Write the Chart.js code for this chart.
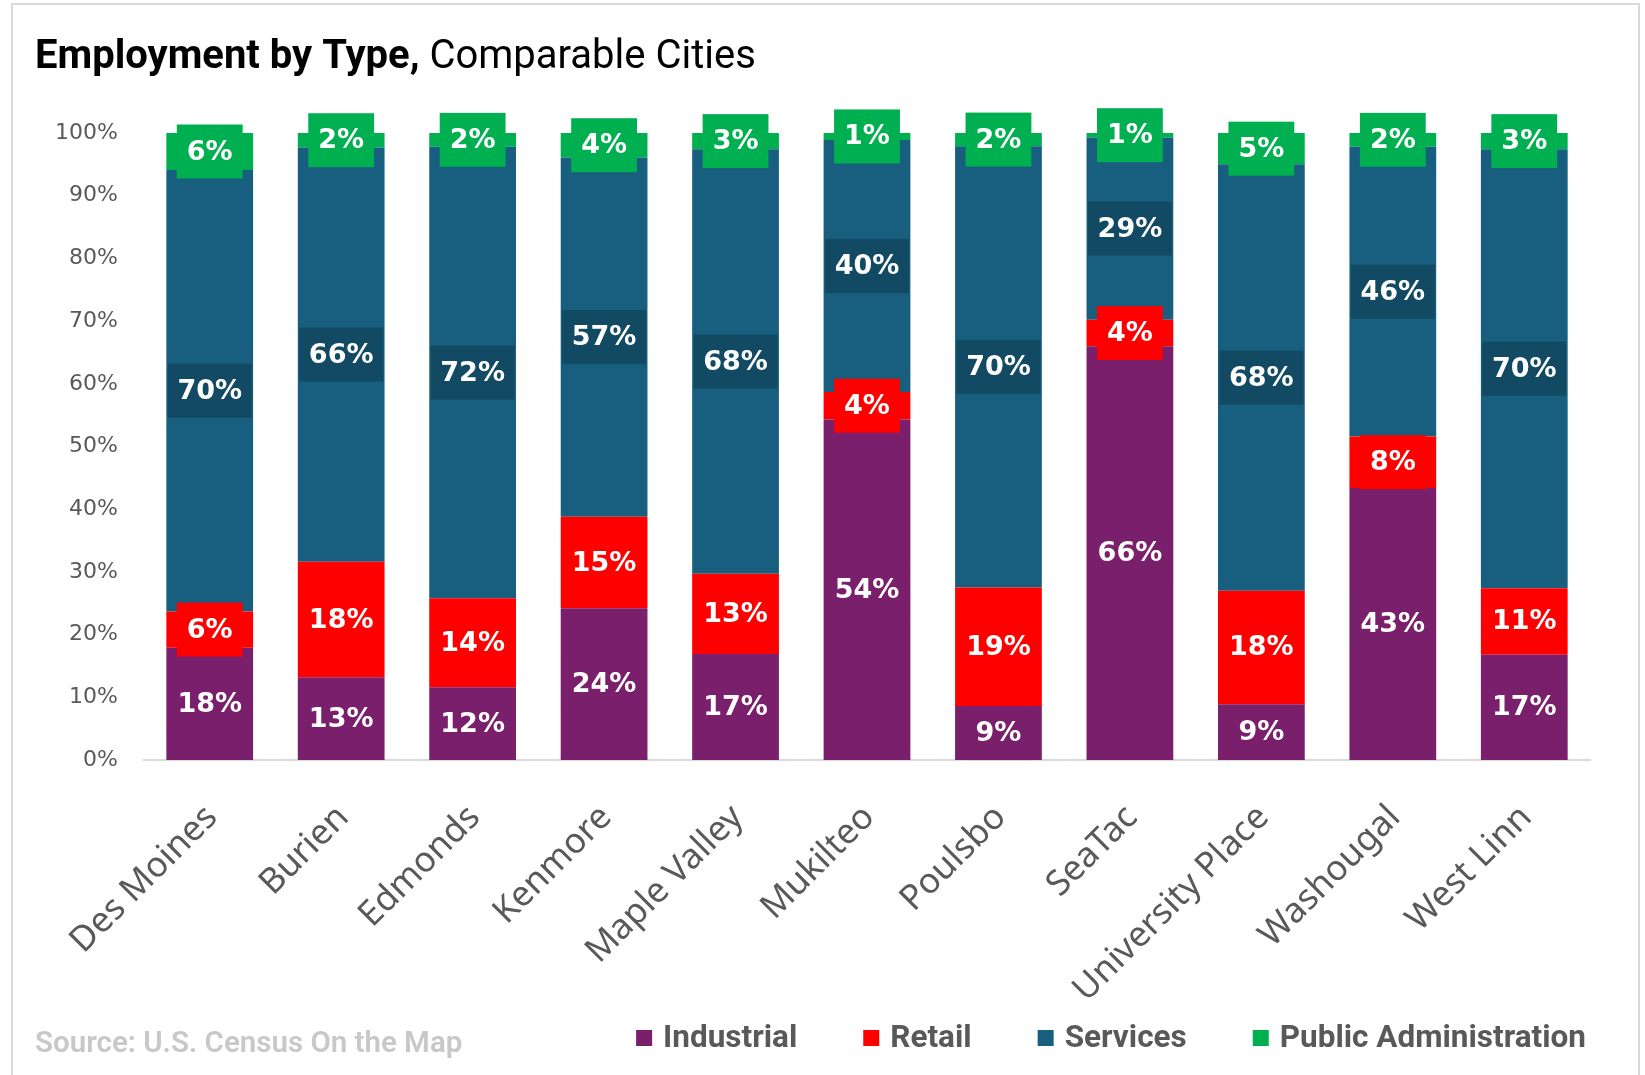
<!DOCTYPE html>
<html><head><meta charset="utf-8">
<script src="https://cdn.jsdelivr.net/npm/chart.js@4"></script>
<style>
html,body{margin:0;padding:0;background:#fff;}
#wrap{position:relative;width:1645px;height:1075px;overflow:hidden;background:#fff;}
#frame{position:absolute;left:11px;top:3px;width:1629px;height:1120px;border:2px solid #d9d9d9;box-sizing:border-box;}
canvas{position:absolute;left:0;top:0;}
</style></head><body>
<div id="wrap"><div id="frame"></div><canvas id="c" width="1645" height="1075"></canvas></div>
<script>
const categories = ['Des Moines','Burien','Edmonds','Kenmore','Maple Valley','Mukilteo','Poulsbo','SeaTac','University Place','Washougal','West Linn'];
const industrial  = [17.9, 13.2, 11.6, 24.2, 16.9, 54.3,  8.6, 66.0,  8.9, 43.4, 16.8];
const retail      = [ 5.8, 18.4, 14.2, 14.6, 12.8,  4.4, 18.9,  4.2, 18.1,  8.2, 10.6];
const services    = [70.4, 66.1, 72.0, 57.3, 67.7, 40.2, 70.4, 29.1, 68.0, 46.2, 70.0];
const publicAdmin = [ 5.9,  2.3,  2.2,  3.9,  2.6,  1.1,  2.1,  0.7,  5.0,  2.2,  2.6];
const seriesNames = ['Industrial','Retail','Services','Public Administration'];
const yTicks = [0,10,20,30,40,50,60,70,80,90,100];
const titleBold = 'Employment by Type,';
const titleRest = ' Comparable Cities';
const sourceText = 'Source: U.S. Census On the Map';

const COLORS = ['#7A1F6B','#FF0000','#175E7F','#00B050'];
const LABEL_BG = ['#7A1F6B','#FF0000','#134A63','#00B050'];
const seriesData = [industrial, retail, services, publicAdmin];

const labelPlugin = {
  id: 'segLabels',
  afterDatasetsDraw(chart) {
    const ctx = chart.ctx;
    ctx.save();
    ctx.font = 'bold 27px "DejaVu Sans"';
    ctx.textAlign = 'center';
    ctx.textBaseline = 'middle';
    chart.data.datasets.forEach((ds, di) => {
      const meta = chart.getDatasetMeta(di);
      meta.data.forEach((bar, i) => {
        const v = ds.data[i];
        const txt = Math.round(v) + '%';
        const p = bar.getProps(['x', 'y', 'base'], true);
        const cy = (p.y + p.base) / 2;
        const w = Math.min(ctx.measureText(txt).width + 20, 84);
        const h = 54;
        ctx.fillStyle = LABEL_BG[di];
        ctx.fillRect(p.x - w / 2, cy - h / 2, w, h);
        ctx.fillStyle = '#FFFFFF';
        ctx.fillText(txt, p.x, cy + 1);
      });
    });
    ctx.restore();
  }
};

const decorPlugin = {
  id: 'decor',
  afterDraw(chart) {
    const ctx = chart.ctx;
    ctx.save();
    // title
    ctx.textBaseline = 'middle';
    ctx.textAlign = 'left';
    ctx.fillStyle = '#000000';
    ctx.font = 'bold 40px Roboto';
    ctx.fillText(titleBold, 35, 58);
    const bw = ctx.measureText(titleBold).width;
    ctx.font = '40px Roboto';
    ctx.fillText(titleRest, 35 + bw, 58);
    // source
    ctx.fillStyle = '#C8C8C8';
    ctx.font = '600 29.5px Roboto';
    ctx.fillText(sourceText, 35, 1045);
    // legend (right aligned, ending at 1586)
    ctx.font = 'bold 31.5px "Liberation Sans Narrow", Roboto';
    const box = 16, gapText = 11, gapItem = 66;
    const widths = seriesNames.map(n => ctx.measureText(n).width);
    let total = 0;
    widths.forEach((w, i) => { total += box + gapText + w + (i < widths.length - 1 ? gapItem : 0); });
    let x = 1586 - total;
    const ly = 1038;
    seriesNames.forEach((n, i) => {
      ctx.fillStyle = COLORS[i];
      ctx.fillRect(x, ly - box / 2, box, box);
      ctx.fillStyle = '#595959';
      ctx.fillText(n, x + box + gapText, ly + 1);
      x += box + gapText + widths[i] + gapItem;
    });
    ctx.restore();
  }
};

new Chart(document.getElementById('c'), {
  type: 'bar',
  data: {
    labels: categories,
    datasets: seriesNames.map((n, i) => ({
      label: n,
      data: seriesData[i],
      backgroundColor: COLORS[i],
      borderWidth: 0,
      categoryPercentage: 1.0,
      barPercentage: 0.66
    }))
  },
  options: {
    responsive: false,
    animation: false,
    devicePixelRatio: 1,
    layout: { padding: { top: 133, right: 55, left: 0, bottom: 0 } },
    plugins: { legend: { display: false }, title: { display: false }, tooltip: { enabled: false } },
    scales: {
      x: {
        stacked: true,
        grid: { display: false },
        border: { display: true, color: '#D9D9D9', width: 2 },
        ticks: {
          color: '#595959',
          font: { family: '"Noto Sans"', size: 35 },
          minRotation: 45, maxRotation: 45,
          padding: 29, labelOffset: 2, autoSkip: false
        },
        afterFit(s) { s.height = 315; }
      },
      y: {
        stacked: true,
        min: 0, max: 100,
        grid: { display: false },
        border: { display: false },
        ticks: {
          color: '#595959',
          font: { family: '"DejaVu Sans"', size: 22 },
          padding: 18,
          callback: v => v + '%'
        },
        afterBuildTicks(s) { s.ticks = yTicks.map(v => ({ value: v })); },
        afterFit(s) { s.width = 144; }
      }
    }
  },
  plugins: [labelPlugin, decorPlugin]
});
</script>
</body></html>
